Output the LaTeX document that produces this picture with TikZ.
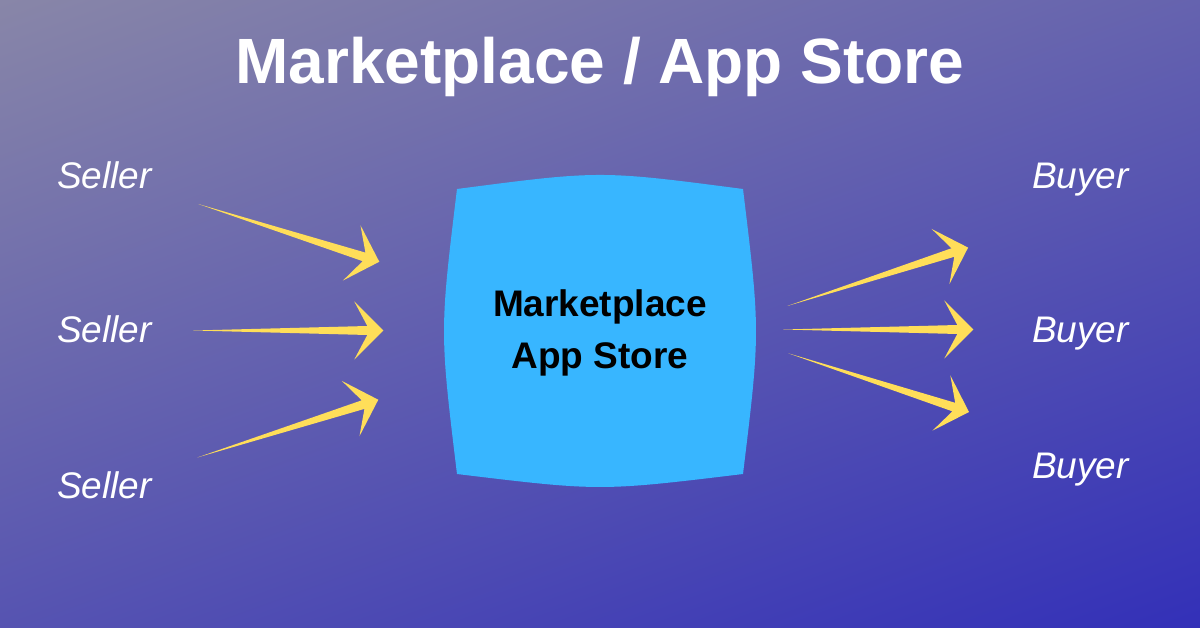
\documentclass[tikz,border=0pt]{standalone}
\usepackage{fontspec}
\setmainfont{Liberation Sans}
\definecolor{bgTLx}{RGB}{153,151,165}
\definecolor{bgBRx}{RGB}{34,31,187}
\definecolor{storeblue}{HTML}{38B6FF}
\definecolor{arrowyellow}{HTML}{FFDE59}
\begin{document}
\begin{tikzpicture}[x=1pt,y=-1pt,
  sidelabel/.style={text=white, font=\fontsize{37}{37}\selectfont\itshape, inner sep=0pt, anchor=base west},
  storetext/.style={text=black, font=\fontsize{37}{37}\selectfont\bfseries, inner sep=0pt, anchor=base},
  fatarrow/.pic={\fill[arrowyellow] (0,0) -- (174,-4.5) -- (161,-29) -- (190,0) -- (161,29) -- (174,4.5) -- cycle;}]
  % background
  \useasboundingbox (0,0) rectangle (1200,628);
  \begin{scope}
    \clip (0,0) rectangle (1200,628);
    \shade[top color=bgTLx, bottom color=bgBRx, shading angle=20] (-100,-386) rectangle (1300,1014);
  \end{scope}
  % title
  \node[text=white, font=\fontsize{64}{64}\selectfont\bfseries, inner sep=0pt, anchor=base] (title) at (600,83.3) {Marketplace / App Store};
  % central store shape
  \fill[storeblue] (457,189) .. controls (600,170.3) .. (743,189)
     .. controls (760.3,331.5) .. (743,474)
     .. controls (600,491.3) .. (457,474)
     .. controls (439.7,331.5) .. (457,189) -- cycle;
  \node[storetext] (store1) at (600,317) {Marketplace};
  \node[storetext] (store2) at (600,368.5) {App Store};
  % labels
  \node[sidelabel] (seller1) at (57,188.5) {Seller};
  \node[sidelabel] (seller2) at (57,342.5) {Seller};
  \node[sidelabel] (seller3) at (57,498.5) {Seller};
  \node[sidelabel] (buyer1) at (1032,188.5) {Buyer};
  \node[sidelabel] (buyer2) at (1032,342.5) {Buyer};
  \node[sidelabel] (buyer3) at (1032,478.5) {Buyer};
  % arrows
  \coordinate (s1tail) at (198.3,204);
  \coordinate (s2tail) at (193.3,330.5);
  \coordinate (s3tail) at (197.3,457.5);
  \coordinate (b1tail) at (787.3,306);
  \coordinate (b2tail) at (783.3,329.5);
  \coordinate (b3tail) at (788.3,353.3);
  \pic[rotate=-17.7] at (s1tail) {fatarrow};
  \pic at (s2tail) {fatarrow};
  \pic[rotate=17.7] at (s3tail) {fatarrow};
  \pic[rotate=17.9] at (b1tail) {fatarrow};
  \pic at (b2tail) {fatarrow};
  \pic[rotate=-18] at (b3tail) {fatarrow};
\end{tikzpicture}
\end{document}
